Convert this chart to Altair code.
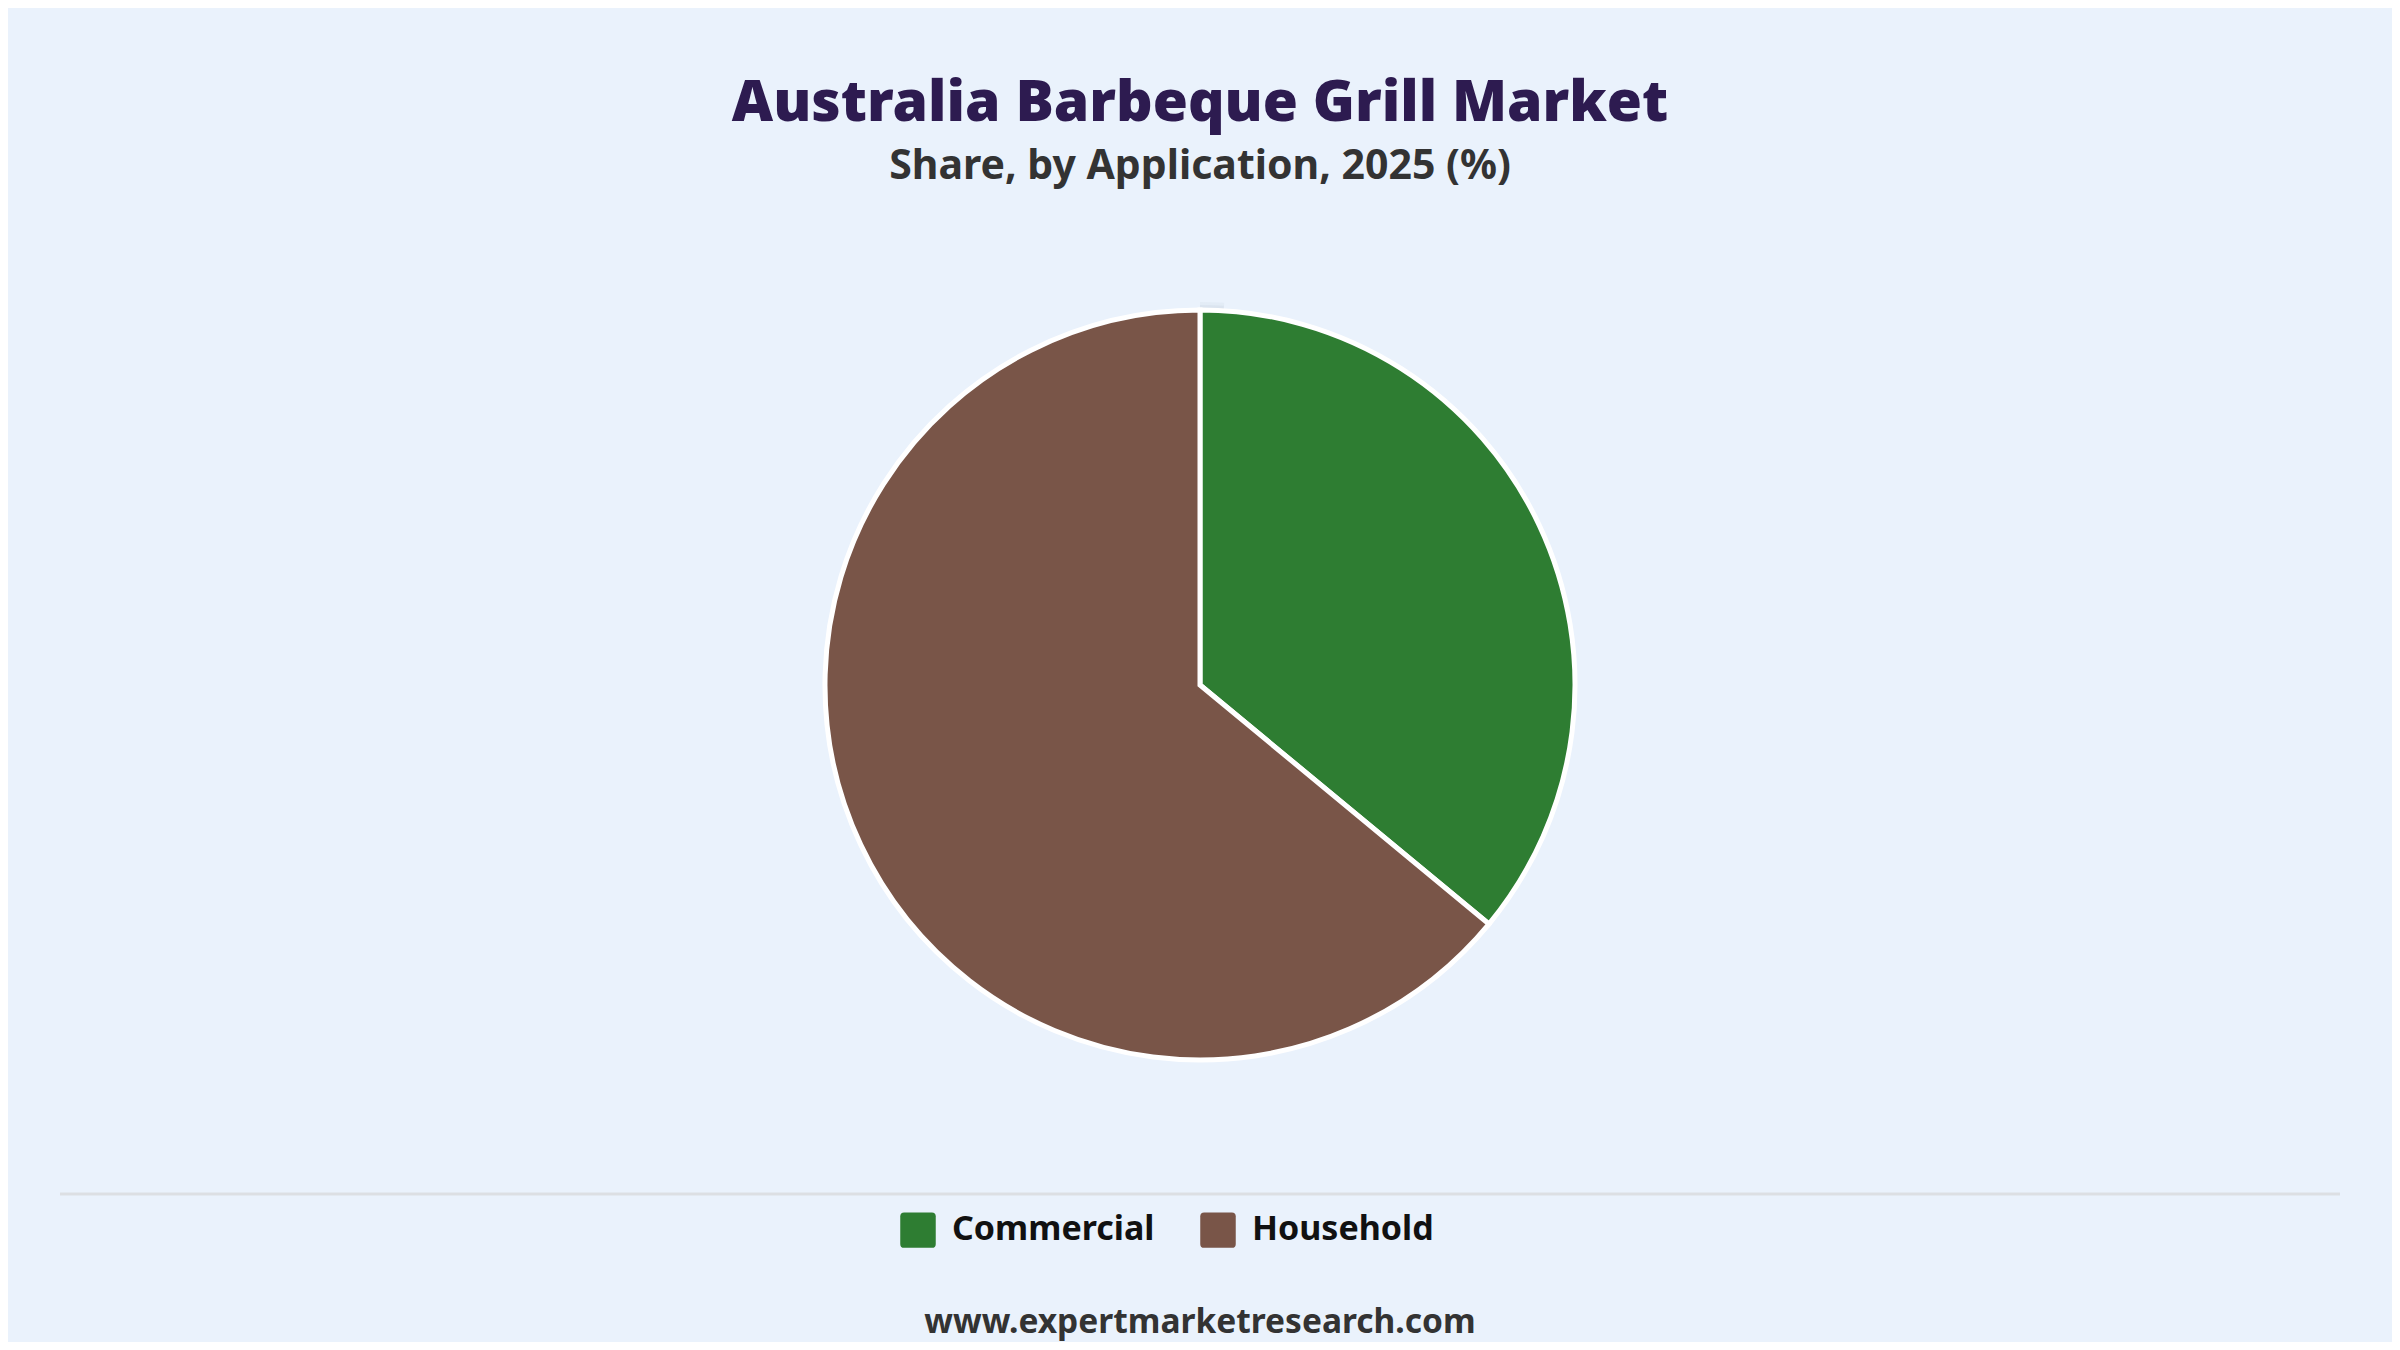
import altair as alt
import pandas as pd

# ---- data ----
categories = ["Commercial", "Household"]
shares = [36, 64]
colors = ["#2E7D32", "#795548"]
slice_order = [1, 2]

title_text = "Australia Barbeque Grill Market"
subtitle_text = "Share, by Application, 2025 (%)"
footer_text = "www.expertmarketresearch.com"

W, H = 2384, 1334
CX, CY = 1192, 677
R = 375
BG = "#EAF2FC"
FONT = "Noto Sans"

df = pd.DataFrame({"Application": categories, "Share": shares, "order": slice_order})
one = pd.DataFrame({"v": [1]})

# soft shadow rings under the pie
shadows = []
for extra, op in [(10, 0.12), (7, 0.18), (4, 0.3)]:
    shadows.append(
        alt.Chart(one).mark_arc(color="#b9c3d1", opacity=op, radius=R + extra)
        .encode(theta=alt.Theta("v:Q"), x=alt.value(CX), y=alt.value(CY + 2))
    )

pie = alt.Chart(df).mark_arc(radius=R, stroke="white", strokeWidth=5).encode(
    theta=alt.Theta("Share:Q", stack=True),
    color=alt.Color(
        "Application:N",
        scale=alt.Scale(domain=categories, range=colors),
        legend=alt.Legend(
            title=None,
            orient="none",
            legendX=892,
            legendY=1204,
            direction="horizontal",
            symbolType="M -0.78 -1 H 0.78 Q 1 -1 1 -0.78 V 0.78 Q 1 1 0.78 1 H -0.78 Q -1 1 -1 0.78 V -0.78 Q -1 -1 -0.78 -1 Z",
            symbolSize=1260,
            symbolStrokeWidth=0,
            symbolOpacity=1,
            labelFont=FONT,
            labelFontSize=34,
            labelFontWeight="bold",
            labelColor="#111111",
            labelOffset=16,
            labelLimit=1000,
            columnPadding=45,
            padding=0,
        ),
    ),
    order=alt.Order("order:Q"),
    x=alt.value(CX),
    y=alt.value(CY),
)

title = alt.Chart(one).mark_text(
    text=title_text, font=FONT, fontSize=57, fontWeight=900, color="#2D1B50",
    align="center", baseline="alphabetic"
).encode(x=alt.value(CX), y=alt.value(113))

subtitle = alt.Chart(one).mark_text(
    text=subtitle_text, font=FONT, fontSize=41, fontWeight="bold", color="#333333",
    align="center", baseline="alphabetic"
).encode(x=alt.value(CX), y=alt.value(171))

separator = alt.Chart(one).mark_rule(color="#DCDFE3", strokeWidth=3).encode(
    x=alt.value(52), x2=alt.value(2332), y=alt.value(1186)
)

footer = alt.Chart(one).mark_text(
    text=footer_text, font=FONT, fontSize=33.5, fontWeight="bold", color="#333333",
    align="center", baseline="alphabetic"
).encode(x=alt.value(CX), y=alt.value(1325))

chart = alt.layer(*shadows, pie, title, subtitle, separator, footer).properties(
    width=W, height=H, background=BG, padding=0,
    autosize=alt.AutoSizeParams(type="fit", contains="padding"),
).configure_view(stroke=None)

chart.save("out.html", embed_options={"renderer": "svg", "actions": False})
